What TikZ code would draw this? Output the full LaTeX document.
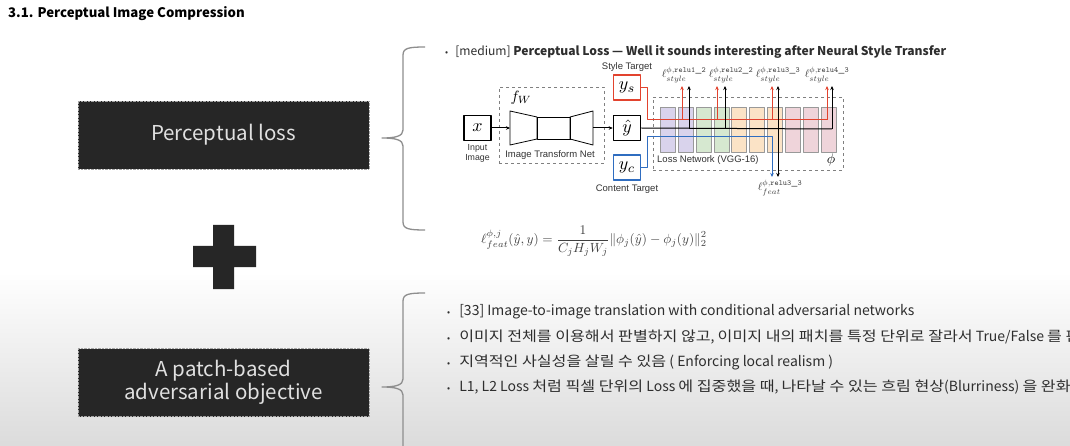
\documentclass[tikz,border=0pt]{standalone}
\usepackage{fontspec}
\setmainfont{Noto Sans CJK KR}
\newfontfamily\hgfont{Noto Sans CJK KR}[FakeStretch=1.15]
\newfontfamily\figfont{Liberation Sans}
\newcommand\hg[1]{{\hgfont #1}}
\usetikzlibrary{arrows.meta,positioning}

\definecolor{boxdark}{HTML}{262626}
\definecolor{bracegray}{HTML}{8E8E8E}
\definecolor{txtgray}{HTML}{2E2E2E}
\definecolor{stylered}{HTML}{E2432E}
\definecolor{contentblue}{HTML}{2F6DC0}
\definecolor{vggpurple}{HTML}{D9D3EC}
\definecolor{vgggreen}{HTML}{D6E8D0}
\definecolor{vggorange}{HTML}{FBE3C6}
\definecolor{vggpink}{HTML}{EFD4DA}

\begin{document}
\begin{tikzpicture}[x=1pt,y=-1pt,>={Stealth[length=4pt,width=3.5pt]},line join=round,
  darkbox/.style={fill=boxdark,draw=gray!70,densely dotted,minimum width=291pt,minimum height=68pt,
    inner sep=0pt,align=center,text=white!88!black,font=\fontsize{20.5}{25}\selectfont},
  brace/.style={draw=bracegray,line width=1.3pt},
  bullet/.style={anchor=west,inner sep=0pt,text=txtgray,font=\fontsize{14}{16}\selectfont},
  mbox/.style={draw,line width=1.6pt,fill=white,minimum width=27pt,minimum height=25pt,inner sep=0pt},
  figlabel/.style={inner sep=0pt,text=black!80,font=\figfont\fontsize{9.5}{10.5}\selectfont},
  blk/.style={draw=gray!80,minimum width=15pt,minimum height=45pt,inner sep=0pt},
  sig/.style={line width=1pt}]
  \useasboundingbox (0,0) rectangle (1070,446);
  \clip (0,0) rectangle (1070,446);
  \fill[white] (0,0) rectangle (1070,446);
  \shade[top color=white,bottom color=black!14] (0,272) rectangle (1070,446);

  % heading
  \node[anchor=west,inner sep=0pt,font=\bfseries\fontsize{13.2}{15}\selectfont] (title) at (8,14) {3.1. Perceptual Image Compression};

  % left column
  \node[darkbox] (plbox) at (223.5,135) {Perceptual loss};
  \node[darkbox] (advbox) at (223.5,382.5) {A patch-based\\[-2pt]adversarial objective};
  \fill[boxdark] (213,225) -- (234,225) -- (234,246) -- (256,246) -- (256,267) -- (234,267)
    -- (234,289) -- (213,289) -- (213,267) -- (193,267) -- (193,246) -- (213,246) -- cycle;

  % braces
  \draw[brace] (425,47) .. controls (409,47) and (403,48) .. (403,55) -- (403,130)
    .. controls (403,136) and (396,138) .. (382,138) .. controls (396,138) and (403,140) .. (403,146)
    -- (403,222) .. controls (403,229) and (409,230) .. (425,230);
  \draw[brace] (425,293) .. controls (409,293) and (403,294) .. (403,301) -- (403,379)
    .. controls (403,385) and (396,387) .. (382,387) .. controls (396,387) and (403,389) .. (403,395)
    -- (403,460);

  % perceptual loss text
  \node[anchor=west,inner sep=0pt,text=txtgray,font=\fontsize{12.1}{14}\selectfont] (b0) at (445,52)
    {{\small•}\hspace{7pt}[medium] \textbf{Perceptual Loss — Well it sounds interesting after Neural Style Transfer}};

  % image transform net
  \node[mbox] (xin) at (477.5,128) {\scalebox{1.8}{$x$}};
  \node[figlabel,align=center,font=\figfont\fontsize{8.8}{10}\selectfont,below=3pt of xin] (xinlbl) {Input\\Image};
  \node[draw=gray,dashed,minimum width=105pt,minimum height=76pt,inner sep=0pt] (fwbox) at (551.5,125) {};
  \node[inner sep=0pt] (fwlbl) at (521,98) {\scalebox{1.5}{$f_W$}};
  \draw[line width=0.8pt] (510,111) -- (537,117) -- (537,139) -- (510,145) -- cycle;
  \draw[line width=0.8pt] (537,117) rectangle (570,139);
  \draw[line width=0.8pt] (570,117) -- (593,111) -- (593,145) -- (570,139) -- cycle;
  \coordinate (tin) at (510,128);
  \coordinate (tout) at (593,128);
  \node[figlabel] (fwname) at (550,155) {Image Transform Net};

  % targets and output
  \node[mbox,draw=stylered] (ys) at (627,87.5) {\scalebox{1.8}{$y_s$}};
  \node[mbox] (yhat) at (627,128) {\scalebox{1.8}{$\hat{y}$}};
  \node[mbox,draw=contentblue] (yc) at (627,167.5) {\scalebox{1.8}{$y_c$}};
  \node[figlabel] (ysname) at (627,67) {Style Target};
  \node[figlabel] (ycname) at (627,189) {Content Target};
  \draw[sig,->] (xin) -- (tin);
  \draw[sig,->] (tout) -- (yhat);

  % loss network
  \node[draw=gray,dashed,minimum width=190pt,minimum height=73pt,inner sep=0pt] (lossnet) at (748,133.5) {};
  \foreach \i/\c in {0/vggpurple,1/vggpurple,2/vgggreen,3/vgggreen,4/vggorange,5/vggorange,6/vggorange,7/vggpink,8/vggpink,9/vggpink}
    \node[blk,fill=\c] (blk\i) at ({667.5+17.9*\i},129.5) {};
  \node[figlabel,anchor=west] (lossname) at (657,160) {Loss Network (VGG-16)};
  \node[inner sep=0pt] (phi) at (831,160) {\scalebox{1.4}{$\phi$}};

  % loss terms
  \foreach \n/\lx/\lay in {1/684/relu1\_2,2/731/relu2\_2,3/778/relu3\_3,4/827/relu4\_3}
    \node[inner sep=0pt,text=black!75,scale=1.12] (sty\n) at (\lx,75) {$\ell^{\phi,\mathtt{\lay}}_{style}$};
  \node[inner sep=0pt,text=black!75,scale=1.12] (feat) at (780,188) {$\ell^{\phi,\mathtt{relu3\_3}}_{feat}$};

  \draw[sig,stylered] (ys.east) -- ++(6,0) |- (827,120);
  \foreach \rx in {682,717,772,827}
    \draw[sig,stylered,->] (\rx,120) -- (\rx,86);
  \draw[sig] (yhat.east) -- (832,129);
  \foreach \bx in {689,725,778,832}
    \draw[sig,->] (\bx,129) -- (\bx,86);
  \draw[sig,->] (778,129) -- (778,177);
  \draw[sig,contentblue,->] (yc.east) -- ++(6,0) |- (772,137) -- (772,177);

  % feature loss
  \node[inner sep=0pt,text=black!75,scale=1.33] (featloss) at (594,241)
    {$\displaystyle \ell^{\phi,j}_{feat}(\hat{y},y)=\frac{1}{C_jH_jW_j}\|\phi_j(\hat{y})-\phi_j(y)\|^2_2$};

  % patch-based objective
  \node[bullet] (b1) at (447,312) {{\small•}\hspace{9pt}[33] Image-to-image translation with conditional adversarial networks};
  \node[bullet] (b2) at (447,337) {{\small•}\hspace{9pt}\hg{이미지 전체를 이용해서 판별하지 않고}, \hg{이미지 내의 패치를 특정 단위로 잘라서} True/False \hg{를 판}};
  \node[bullet] (b3) at (447,362) {{\small•}\hspace{9pt}\hg{지역적인 사실성을 살릴 수 있음} ( Enforcing local realism )};
  \node[bullet] (b4) at (447,387) {{\small•}\hspace{9pt}L1, L2 Loss \hg{처럼 픽셀 단위의} Loss \hg{에 집중했을 때}, \hg{나타날 수 있는 흐림 현상}(Blurriness) \hg{을 완화}};
\end{tikzpicture}
\end{document}
